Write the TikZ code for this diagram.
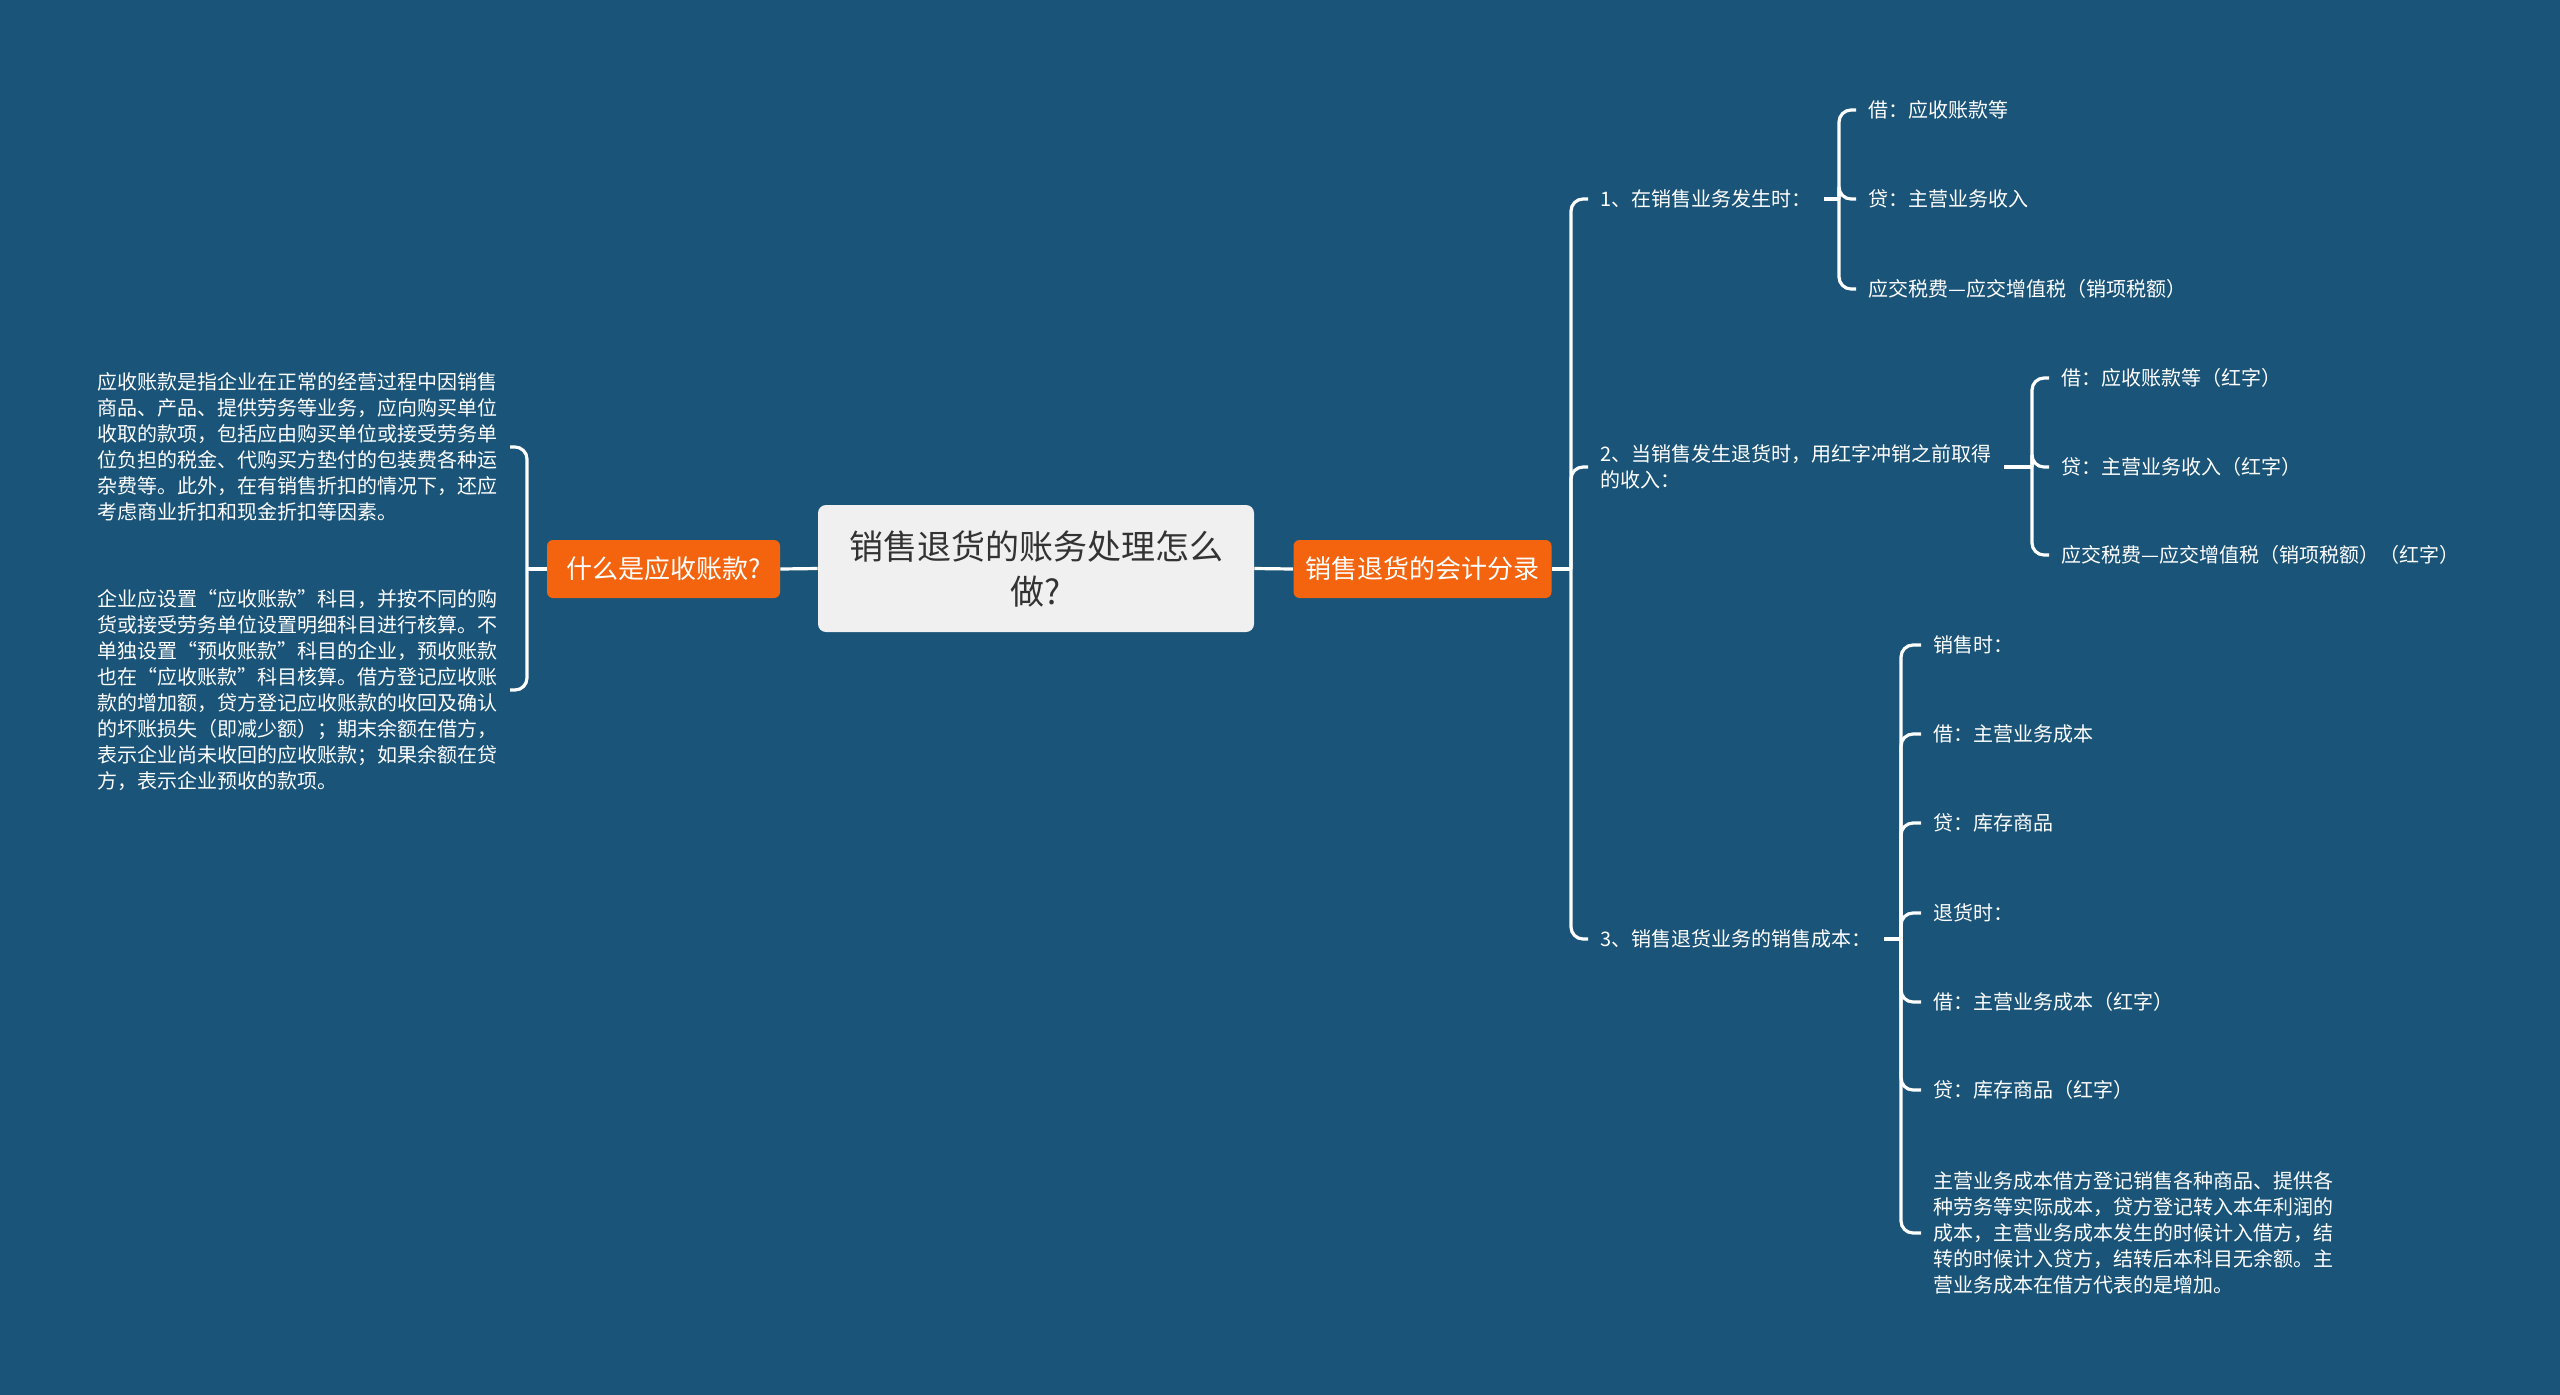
\documentclass[tikz,border=0pt]{standalone}
\usepackage{fontspec}
\setmainfont{Noto Sans CJK SC}
\usetikzlibrary{calc}
\definecolor{bg}{HTML}{1A5478}
\definecolor{org}{HTML}{F4640F}
\definecolor{ctr}{HTML}{F0F0F0}
\definecolor{ctrtxt}{HTML}{333333}
\begin{document}
\begin{tikzpicture}[x=0.5pt,y=-0.5pt,
  link/.style={draw=white, line width=1.6pt, rounded corners=6pt},
  leaf/.style={text=white, font=\fontsize{10pt}{13pt}\selectfont, inner xsep=6pt, inner ysep=2pt, align=left},
  topic/.style={fill=org, text=white, rounded corners=3pt, font=\fontsize{13pt}{16pt}\selectfont, minimum height=29pt, inner xsep=6pt},
  root/.style={fill=ctr, text=ctrtxt, rounded corners=4pt, font=\fontsize{17pt}{22.5pt}\selectfont, minimum width=218pt, minimum height=63.5pt, align=center}]
\useasboundingbox (0,0) rectangle (2560,1394);
\fill[bg] (-20,-20) rectangle (2580,1414);

% central and main topics
\node[root] (c) at (1036,568.5) {销售退货的账务处理怎么\\做?};
\node[topic, minimum width=116.5pt] (lt) at (663.5,569) {什么是应收账款?};
\node[topic, minimum width=128.5pt] (rt) at (1422.5,569) {销售退货的会计分录};
\draw[link] (c.west) -- (lt.east);
\draw[link] (c.east) -- (rt.west);

% left branch
\coordinate (lj) at (527,569);
\node[leaf, anchor=east] (b1) at (510,447) {应收账款是指企业在正常的经营过程中因销售\\商品、产品、提供劳务等业务，应向购买单位\\收取的款项，包括应由购买单位或接受劳务单\\位负担的税金、代购买方垫付的包装费各种运\\杂费等。此外，在有销售折扣的情况下，还应\\考虑商业折扣和现金折扣等因素。};
\node[leaf, anchor=east] (b2) at (510,690) {企业应设置“应收账款”科目，并按不同的购\\货或接受劳务单位设置明细科目进行核算。不\\单独设置“预收账款”科目的企业，预收账款\\也在“应收账款”科目核算。借方登记应收账\\款的增加额，贷方登记应收账款的收回及确认\\的坏账损失（即减少额）；期末余额在借方，\\表示企业尚未收回的应收账款；如果余额在贷\\方，表示企业预收的款项。};
\draw[link] (lt.west) -- (lj);
\draw[link] (lj) |- (b1.east);
\draw[link] (lj) |- (b2.east);

% right branch
\coordinate (rj) at (1571,569);
\node[leaf, anchor=west] (n1) at (1588,199) {1、在销售业务发生时：};
\node[leaf, anchor=west] (n2) at (1588,467) {2、当销售发生退货时，用红字冲销之前取得\\的收入：};
\node[leaf, anchor=west] (n3) at (1588,939) {3、销售退货业务的销售成本：};
\draw[link] (rt.east) -- (rj);
\draw[link] (rj) |- (n1.west);
\draw[link] (rj) |- (n2.west);
\draw[link] (rj) |- (n3.west);

% n1 children
\coordinate (j1) at (1839,199);
\node[leaf, anchor=west] (n11) at (1856,110) {借：应收账款等};
\node[leaf, anchor=west] (n12) at (1856,199) {贷：主营业务收入};
\node[leaf, anchor=west] (n13) at (1856,289) {应交税费—应交增值税（销项税额）};
\draw[link] (n1.east) -- (j1);
\draw[link] (j1) |- (n11.west);
\draw[link] (j1) |- (n12.west);
\draw[link] (j1) |- (n13.west);

% n2 children
\coordinate (j2) at (2032,467);
\node[leaf, anchor=west] (n21) at (2049,378) {借：应收账款等（红字）};
\node[leaf, anchor=west] (n22) at (2049,467) {贷：主营业务收入（红字）};
\node[leaf, anchor=west] (n23) at (2049,555) {应交税费—应交增值税（销项税额）（红字）};
\draw[link] (n2.east) -- (j2);
\draw[link] (j2) |- (n21.west);
\draw[link] (j2) |- (n22.west);
\draw[link] (j2) |- (n23.west);

% n3 children
\coordinate (j3) at (1901,939);
\node[leaf, anchor=west] (n31) at (1921,645) {销售时：};
\node[leaf, anchor=west] (n32) at (1921,734) {借：主营业务成本};
\node[leaf, anchor=west] (n33) at (1921,823) {贷：库存商品};
\node[leaf, anchor=west] (n34) at (1921,913) {退货时：};
\node[leaf, anchor=west] (n35) at (1921,1002) {借：主营业务成本（红字）};
\node[leaf, anchor=west] (n36) at (1921,1090) {贷：库存商品（红字）};
\node[leaf, anchor=west] (n37) at (1921,1233) {主营业务成本借方登记销售各种商品、提供各\\种劳务等实际成本，贷方登记转入本年利润的\\成本，主营业务成本发生的时候计入借方，结\\转的时候计入贷方，结转后本科目无余额。主\\营业务成本在借方代表的是增加。};
\draw[link] (n3.east) -- (j3);
\foreach \k in {n31,n32,n33,n34,n35,n36,n37} \draw[link] (j3) |- (\k.west);
\end{tikzpicture}
\end{document}
